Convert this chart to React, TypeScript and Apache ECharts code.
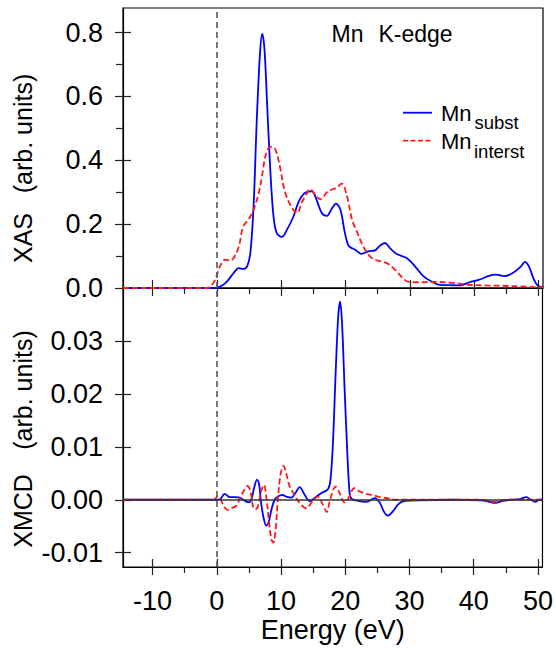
import React, { useEffect, useRef } from "react";
import * as echarts from "echarts";

const FONT = "'Liberation Sans', Arial, Helvetica, sans-serif";

const X_MIN = -14.6;
const X_MAX = 50.7;
const XAS_MIN = 0;
const XAS_MAX = 0.877;
const XMCD_MIN = -0.0127;
const XMCD_MAX = 0.04;

const xMajorTicks = [-10, 0, 10, 20, 30, 40, 50];
const xMinorTicks = [-5, 5, 15, 25, 35, 45];
const xasMajorTicks = [0, 0.2, 0.4, 0.6, 0.8];
const xasMinorTicks = [0.1, 0.3, 0.5, 0.7];
const xmcdMajorTicks = [-0.01, 0, 0.01, 0.02, 0.03];

// XAS, Mn_subst (blue)
const xasSubstE = [-14.6, -0.5, 0, 0.8, 1.55, 2.6, 3.4, 4.1, 4.7, 5.2, 5.7, 6.2, 6.7, 7.05, 7.4, 7.8, 8.3, 8.8, 9.3, 10.1, 10.9, 11.9, 12.7, 13.5, 14.2, 14.8, 15.5, 16.3, 17.1, 17.9, 18.5, 19.2, 19.9, 20.4, 20.8, 21.5, 22.5, 23.5, 24.6, 25.3, 26.1, 26.9, 27.9, 29.5, 30.8, 32.0, 33.3, 34.6, 36.2, 37.7, 39.3, 40.8, 42.4, 43.4, 44.7, 46.0, 47.3, 47.9, 48.5, 49.3, 49.9, 50.7];
const xasSubstV = [0, 0, 0.001, 0.008, 0.02, 0.047, 0.062, 0.06, 0.068, 0.11, 0.256, 0.527, 0.735, 0.796, 0.746, 0.58, 0.37, 0.224, 0.172, 0.16, 0.183, 0.224, 0.27, 0.295, 0.302, 0.303, 0.276, 0.235, 0.226, 0.25, 0.264, 0.245, 0.172, 0.135, 0.127, 0.12, 0.107, 0.115, 0.118, 0.132, 0.141, 0.125, 0.107, 0.094, 0.068, 0.039, 0.021, 0.01, 0.009, 0.008, 0.018, 0.026, 0.039, 0.042, 0.037, 0.047, 0.068, 0.082, 0.068, 0.026, 0.007, 0.002];

// XAS, Mn_interst (red)
const xasInterstE = [-14.6, -1.5, -1.0, -0.26, 0.26, 0.8, 1.3, 2.1, 2.6, 3.4, 4.1, 4.9, 5.7, 6.5, 7.0, 7.5, 8.0, 8.5, 9.1, 9.8, 10.6, 11.7, 12.5, 13.2, 14.0, 14.5, 15.3, 16.1, 17.1, 18.1, 18.6, 19.4, 20.2, 21.0, 21.7, 22.75, 23.8, 24.8, 26.4, 27.7, 28.9, 29.7, 31.5, 34.1, 36.7, 39.3, 41.9, 44.4, 47.0, 49.6, 50.7];
const xasInterstV = [0, 0, 0.005, 0.026, 0.057, 0.08, 0.089, 0.086, 0.094, 0.13, 0.193, 0.214, 0.245, 0.297, 0.35, 0.41, 0.438, 0.443, 0.433, 0.38, 0.3, 0.25, 0.235, 0.268, 0.297, 0.31, 0.29, 0.278, 0.3, 0.31, 0.314, 0.327, 0.29, 0.214, 0.18, 0.13, 0.099, 0.087, 0.078, 0.057, 0.031, 0.02, 0.018, 0.019, 0.016, 0.01, 0.008, 0.007, 0.005, 0.003, 0.002];

// XMCD, Mn_subst (blue)
const xmcdSubstE = [-14.6, -0.3, 0.47, 1.24, 2.0, 2.8, 3.6, 4.35, 5.0, 5.4, 5.8, 6.27, 6.6, 6.9, 7.3, 7.7, 8.1, 8.5, 9.0, 9.5, 10.2, 10.8, 11.6, 12.2, 12.9, 13.7, 14.5, 15.2, 16.3, 17.3, 17.7, 18.1, 18.5, 18.9, 19.2, 19.5, 19.9, 20.3, 20.6, 20.9, 22.0, 23.3, 24.6, 25.4, 26.0, 26.6, 27.4, 28.2, 29.0, 31.6, 36.8, 41.0, 42.5, 43.2, 44.3, 45.6, 47.1, 48.2, 48.9, 49.6, 50.2, 50.7];
const xmcdSubstV = [0, 0, 0.0001, 0.0011, 0.0005, 0.0005, 0.0004, -0.0002, -0.0005, 0.0001, 0.0022, 0.0038, 0.0028, -0.0006, -0.0035, -0.0049, -0.0041, -0.0019, 0, 0.0006, 0.0009, 0.0006, 0.0004, 0.0012, 0.0024, 0.0009, -0.0003, 0.0003, 0.0013, 0.002, 0.0038, 0.0113, 0.0239, 0.0346, 0.0374, 0.0333, 0.0208, 0.0094, 0.0025, 0.0003, -0.0002, -0.0004, 0.0003, -0.0006, -0.0022, -0.003, -0.0022, -0.0009, -0.0003, -0.0001, 0, -0.0001, -0.0004, -0.0006, -0.0003, 0, 0.0001, 0.0005, 0, -0.0004, 0, 0];

// XMCD, Mn_interst (red)
const xmcdInterstE = [-14.6, -0.8, -0.3, 0.1, 0.6, 1.14, 1.66, 2.3, 3.06, 3.7, 4.35, 4.77, 5.24, 5.65, 6.0, 6.4, 6.9, 7.36, 7.7, 8.1, 8.5, 8.8, 9.2, 9.5, 9.95, 10.4, 10.8, 11.35, 11.9, 12.5, 12.9, 13.9, 14.9, 15.7, 16.5, 17.1, 17.7, 18.5, 19.1, 19.9, 20.5, 21.4, 22.2, 23.3, 24.3, 25.4, 26.6, 27.9, 34.2, 41.4, 42.5, 43.5, 44.5, 46.1, 50.7];
const xmcdInterstV = [0, 0, 0.0001, 0.0006, 0, -0.0013, -0.0019, -0.0016, -0.0011, 0.0006, 0.002, 0.0026, 0.0016, -0.0013, -0.0018, -0.0013, 0.0016, 0.0028, 0.0006, -0.0038, -0.0075, -0.0081, -0.005, 0, 0.005, 0.0064, 0.005, 0.0025, 0.0013, 0.0001, -0.0006, -0.0016, -0.0003, 0.0006, -0.0009, -0.0023, 0.0003, 0.0025, 0.0013, -0.0005, 0.0003, 0.0022, 0.0016, 0.0011, 0.0009, 0.0005, 0.0003, 0, 0, 0, -0.0003, -0.0004, -0.0001, 0, 0];

const zip = (xs: number[], ys: number[]) => xs.map((x, i) => [x, ys[i]]);

const BLUE = "#0000ff";
const RED = "#ff1a1a";
const TICK = { color: "#222", width: 1.2 };
const LW = 1.8;
const TICK_FONT = 27;

function xAxesFor(g: number, withLabels: boolean) {
  const base = {
    type: "value",
    gridIndex: g,
    min: X_MIN,
    max: X_MAX,
    position: "bottom",
    splitLine: { show: false },
  };
  return [
    {
      ...base,
      axisLine: { show: true, onZero: false, lineStyle: { color: "#000", width: 1.2 } },
      axisTick: { show: true, inside: false, length: 8, customValues: xMajorTicks, lineStyle: TICK },
      axisLabel: withLabels
        ? { show: true, customValues: xMajorTicks, fontSize: TICK_FONT, fontFamily: FONT, color: "#000", margin: 20 }
        : { show: false },
      name: withLabels ? "Energy (eV)" : "",
      nameLocation: "middle",
      nameGap: 49,
      nameTextStyle: { fontSize: 27, fontFamily: FONT, color: "#000" },
    },
    {
      ...base,
      axisLine: { show: false, onZero: false },
      axisTick: { show: true, inside: false, length: 6, customValues: xMinorTicks, lineStyle: TICK },
      axisLabel: { show: false },
    },
    {
      ...base,
      axisLine: { show: false, onZero: false },
      axisTick: { show: true, inside: true, length: 8, customValues: xMajorTicks, lineStyle: TICK },
      axisLabel: { show: false },
    },
  ];
}

export default function App() {
  const ref = useRef<HTMLDivElement>(null);

  useEffect(() => {
    if (!ref.current) return;
    const chart = echarts.init(ref.current, null, { renderer: "svg" });

    const yBase0 = { type: "value", gridIndex: 0, min: XAS_MIN, max: XAS_MAX, position: "left", splitLine: { show: false } };
    const yBase1 = { type: "value", gridIndex: 1, min: XMCD_MIN, max: XMCD_MAX, position: "left", splitLine: { show: false } };

    const refLine = (g: number, withZero: boolean) => ({
      type: "line",
      name: "ref" + g,
      xAxisIndex: g * 3,
      yAxisIndex: g === 0 ? 0 : 3,
      data: [],
      z: 1,
      silent: true,
      markLine: {
        silent: true,
        symbol: ["none", "none"],
        label: { show: false },
        animation: false,
        data: [
          { xAxis: 0, lineStyle: { color: "#555", type: [6, 4], width: 1.6 } },
          ...(withZero ? [{ yAxis: 0, lineStyle: { color: "#333", type: "solid", width: 1.5 } }] : []),
        ],
      },
    });

    const option: any = {
      animation: false,
      backgroundColor: "#fff",
      textStyle: { fontFamily: FONT },
      grid: [
        { left: 123, top: 8, width: 420, height: 280, show: true, borderColor: "#000", borderWidth: 1.2, backgroundColor: "transparent" },
        { left: 123, top: 288, width: 420, height: 279, show: true, borderColor: "#000", borderWidth: 1.2, backgroundColor: "transparent" },
      ],
      xAxis: [...xAxesFor(0, false), ...xAxesFor(1, true)],
      yAxis: [
        {
          ...yBase0,
          axisLine: { show: true, onZero: false, lineStyle: { color: "#000", width: 1.2 } },
          axisTick: { show: true, inside: false, length: 8, customValues: xasMajorTicks, lineStyle: TICK },
          axisLabel: { show: true, customValues: xasMajorTicks, formatter: (v: number) => v.toFixed(1), fontSize: TICK_FONT, fontFamily: FONT, color: "#000", margin: 20 },
        },
        {
          ...yBase0,
          axisLine: { show: false, onZero: false },
          axisTick: { show: true, inside: false, length: 7, customValues: xasMinorTicks, lineStyle: TICK },
          axisLabel: { show: false },
        },
        {
          ...yBase0,
          axisLine: { show: false, onZero: false },
          axisTick: { show: true, inside: true, length: 8, customValues: xasMajorTicks, lineStyle: TICK },
          axisLabel: { show: false },
        },
        {
          ...yBase1,
          axisLine: { show: true, onZero: false, lineStyle: { color: "#000", width: 1.2 } },
          axisTick: { show: true, inside: false, length: 8, customValues: xmcdMajorTicks, lineStyle: TICK },
          axisLabel: { show: true, customValues: xmcdMajorTicks, formatter: (v: number) => v.toFixed(2), fontSize: TICK_FONT, fontFamily: FONT, color: "#000", margin: 20 },
        },
        {
          ...yBase1,
          axisLine: { show: false, onZero: false },
          axisTick: { show: true, inside: true, length: 8, customValues: xmcdMajorTicks, lineStyle: TICK },
          axisLabel: { show: false },
        },
      ],
      series: [
        refLine(0, false),
        refLine(1, true),
        {
          type: "line", name: "Mn_subst XAS", xAxisIndex: 0, yAxisIndex: 0,
          data: zip(xasSubstE, xasSubstV), symbol: "none", showSymbol: false, smooth: 0.35, z: 3,
          lineStyle: { color: BLUE, width: LW },
        },
        {
          type: "line", name: "Mn_interst XAS", xAxisIndex: 0, yAxisIndex: 0,
          data: zip(xasInterstE, xasInterstV), symbol: "none", showSymbol: false, smooth: 0.35, z: 3,
          lineStyle: { color: RED, width: LW, type: [6, 3] },
        },
        {
          type: "line", name: "Mn_subst XMCD", xAxisIndex: 3, yAxisIndex: 3,
          data: zip(xmcdSubstE, xmcdSubstV), symbol: "none", showSymbol: false, smooth: 0.35, z: 3,
          lineStyle: { color: BLUE, width: LW },
        },
        {
          type: "line", name: "Mn_interst XMCD", xAxisIndex: 3, yAxisIndex: 3,
          data: zip(xmcdInterstE, xmcdInterstV), symbol: "none", showSymbol: false, smooth: 0.35, z: 3,
          lineStyle: { color: RED, width: LW, type: [6, 3] },
        },
      ],
      graphic: [
        // y axis titles
        { type: "text", x: 23, y: 133.5, rotation: Math.PI / 2, style: { text: "(arb. units)", fontSize: 25, fontFamily: FONT, fill: "#000", align: "center", verticalAlign: "middle" } },
        { type: "text", x: 23, y: 238, rotation: Math.PI / 2, style: { text: "XAS", fontSize: 25, fontFamily: FONT, fill: "#000", align: "center", verticalAlign: "middle" } },
        { type: "text", x: 23, y: 390, rotation: Math.PI / 2, style: { text: "(arb. units)", fontSize: 25, fontFamily: FONT, fill: "#000", align: "center", verticalAlign: "middle" } },
        { type: "text", x: 23, y: 511, rotation: Math.PI / 2, style: { text: "XMCD", fontSize: 25, fontFamily: FONT, fill: "#000", align: "center", verticalAlign: "middle" } },
        // panel title
        { type: "text", x: 331.5, y: 33.7, style: { text: "Mn", fontSize: 23, fontFamily: FONT, fill: "#000", align: "left", verticalAlign: "middle" } },
        { type: "text", x: 378.5, y: 33.7, style: { text: "K-edge", fontSize: 23, fontFamily: FONT, fill: "#000", align: "left", verticalAlign: "middle" } },
        // legend
        { type: "line", shape: { x1: 403, y1: 112.7, x2: 432, y2: 112.7 }, style: { stroke: BLUE, lineWidth: LW } },
        { type: "text", x: 441, y: 113, style: { text: "Mn", fontSize: 22, fontFamily: FONT, fill: "#000", align: "left", verticalAlign: "middle" } },
        { type: "text", x: 474.5, y: 122.5, style: { text: "subst", fontSize: 18.5, fontFamily: FONT, fill: "#000", align: "left", verticalAlign: "middle" } },
        { type: "line", shape: { x1: 403, y1: 140.7, x2: 432, y2: 140.7 }, style: { stroke: RED, lineWidth: LW, lineDash: [5, 2.5] } },
        { type: "text", x: 441, y: 141.6, style: { text: "Mn", fontSize: 22, fontFamily: FONT, fill: "#000", align: "left", verticalAlign: "middle" } },
        { type: "text", x: 474, y: 151.2, style: { text: "interst", fontSize: 18.5, fontFamily: FONT, fill: "#000", align: "left", verticalAlign: "middle" } },
      ],
    };

    chart.setOption(option);
    return () => chart.dispose();
  }, []);

  return (
    <div
      ref={ref}
      style={{ position: "fixed", left: 0, top: 0, width: 556, height: 648, background: "#fff" }}
    />
  );
}
